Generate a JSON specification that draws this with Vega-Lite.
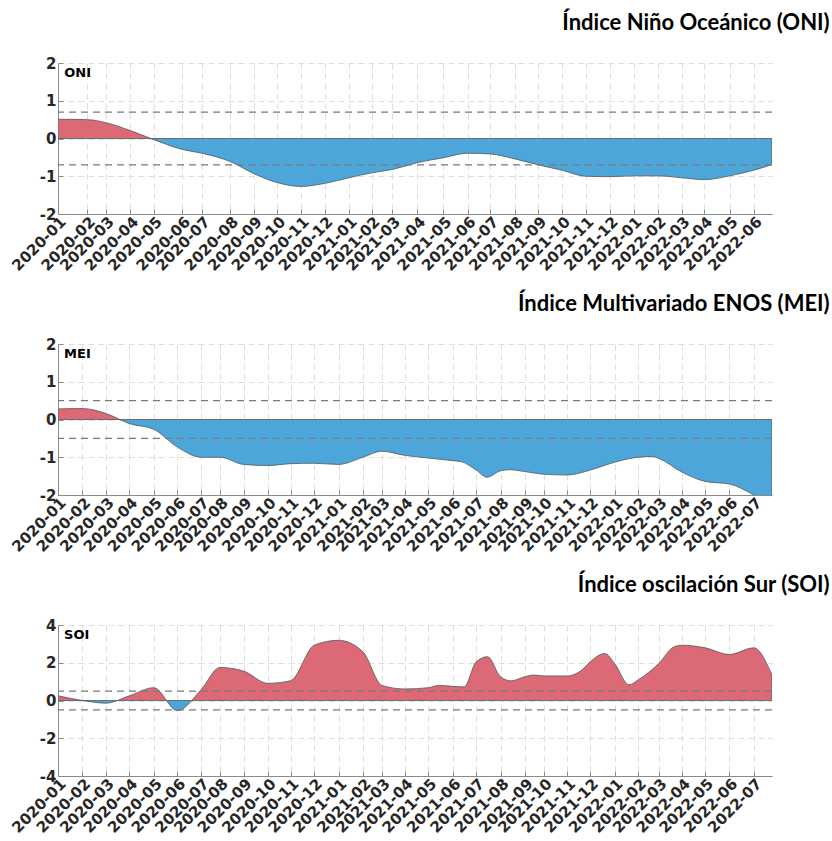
{
  "$schema": "https://vega.github.io/schema/vega-lite/v6.json",
  "background": "white",
  "padding": {"left": 9, "top": 12, "right": 5, "bottom": 5},
  "config": {
    "view": {"stroke": null},
    "font": "DejaVu Sans",
    "axis": {
      "labelFont": "DejaVu Sans", "labelFontWeight": "bold", "labelFontSize": 15, "labelColor": "#262626",
      "domainColor": "#8a8a8a", "tickColor": "#8a8a8a", "tickSize": -5,
      "gridColor": "#dedede", "gridDash": [6, 4], "title": null
    },
    "axisX": {"labelAngle": -45, "labelOverlap": false, "labelBound": false, "labelFlush": false, "format": "%Y-%m", "formatType": "utc", "labelPadding": 5},
    "axisY": {"labelPadding": 7, "labelOverlap": false, "labelExpr": "'' + datum.value"},
    "title": {"font": "Lato", "fontSize": 22, "fontWeight": "bold", "color": "#000000", "anchor": "end", "dx": 57, "offset": 21},
    "concat": {"spacing": 19}
  },
  "datasets": {
    "oni": [
      {"date": "2020-01-01", "v": 0.51}, {"date": "2020-02-07", "v": 0.5}, {"date": "2020-03-02", "v": 0.42},
      {"date": "2020-04-02", "v": 0.21}, {"date": "2020-05-02", "v": -0.03}, {"date": "2020-06-07", "v": -0.29},
      {"date": "2020-07-02", "v": -0.39}, {"date": "2020-08-07", "v": -0.61}, {"date": "2020-09-06", "v": -0.93},
      {"date": "2020-10-06", "v": -1.17}, {"date": "2020-11-05", "v": -1.27}, {"date": "2020-12-05", "v": -1.19},
      {"date": "2021-01-05", "v": -1.04}, {"date": "2021-02-03", "v": -0.91}, {"date": "2021-03-01", "v": -0.82},
      {"date": "2021-04-02", "v": -0.64}, {"date": "2021-05-05", "v": -0.51}, {"date": "2021-06-05", "v": -0.39},
      {"date": "2021-07-04", "v": -0.41}, {"date": "2021-08-04", "v": -0.54}, {"date": "2021-09-03", "v": -0.7},
      {"date": "2021-10-03", "v": -0.84}, {"date": "2021-11-02", "v": -1.0}, {"date": "2021-12-03", "v": -1.01},
      {"date": "2022-01-02", "v": -0.99}, {"date": "2022-02-02", "v": -0.99}, {"date": "2022-03-04", "v": -1.04},
      {"date": "2022-04-02", "v": -1.09}, {"date": "2022-05-04", "v": -0.99}, {"date": "2022-06-04", "v": -0.84},
      {"date": "2022-06-27", "v": -0.69}
    ],
    "mei": [
      {"date": "2020-01-01", "v": 0.28}, {"date": "2020-02-02", "v": 0.29}, {"date": "2020-03-04", "v": 0.16},
      {"date": "2020-04-04", "v": -0.11}, {"date": "2020-05-06", "v": -0.26}, {"date": "2020-06-06", "v": -0.73},
      {"date": "2020-07-07", "v": -1.0}, {"date": "2020-08-01", "v": -1.0}, {"date": "2020-09-01", "v": -1.19},
      {"date": "2020-10-03", "v": -1.22}, {"date": "2020-11-02", "v": -1.17}, {"date": "2020-12-03", "v": -1.16},
      {"date": "2021-01-04", "v": -1.19}, {"date": "2021-02-05", "v": -1.0}, {"date": "2021-03-02", "v": -0.84},
      {"date": "2021-04-01", "v": -0.95}, {"date": "2021-05-02", "v": -1.02}, {"date": "2021-06-03", "v": -1.09},
      {"date": "2021-06-15", "v": -1.12}, {"date": "2021-07-04", "v": -1.34}, {"date": "2021-07-18", "v": -1.53},
      {"date": "2021-08-05", "v": -1.36}, {"date": "2021-08-17", "v": -1.33}, {"date": "2021-09-06", "v": -1.38},
      {"date": "2021-10-01", "v": -1.45}, {"date": "2021-11-01", "v": -1.47}, {"date": "2021-12-01", "v": -1.34},
      {"date": "2022-01-02", "v": -1.13}, {"date": "2022-02-02", "v": -1.0}, {"date": "2022-02-20", "v": -0.98},
      {"date": "2022-03-01", "v": -1.03}, {"date": "2022-04-01", "v": -1.4}, {"date": "2022-05-01", "v": -1.64},
      {"date": "2022-06-02", "v": -1.71}, {"date": "2022-07-04", "v": -2.0}, {"date": "2022-07-28", "v": -2.3}
    ],
    "soi": [
      {"date": "2020-01-01", "v": 0.25}, {"date": "2020-02-02", "v": 0.0}, {"date": "2020-03-04", "v": -0.14},
      {"date": "2020-04-04", "v": 0.25}, {"date": "2020-05-06", "v": 0.68}, {"date": "2020-06-06", "v": -0.54},
      {"date": "2020-07-07", "v": 0.56}, {"date": "2020-08-01", "v": 1.75}, {"date": "2020-09-01", "v": 1.56},
      {"date": "2020-10-03", "v": 0.91}, {"date": "2020-11-02", "v": 1.05}, {"date": "2020-12-03", "v": 2.93},
      {"date": "2021-01-04", "v": 3.19}, {"date": "2021-02-05", "v": 2.58}, {"date": "2021-03-02", "v": 0.8},
      {"date": "2021-04-01", "v": 0.61}, {"date": "2021-05-02", "v": 0.68}, {"date": "2021-05-16", "v": 0.8},
      {"date": "2021-06-03", "v": 0.75}, {"date": "2021-06-18", "v": 0.72}, {"date": "2021-07-04", "v": 2.05},
      {"date": "2021-07-19", "v": 2.32}, {"date": "2021-08-05", "v": 1.26}, {"date": "2021-08-19", "v": 1.04},
      {"date": "2021-09-06", "v": 1.26}, {"date": "2021-09-18", "v": 1.35}, {"date": "2021-10-01", "v": 1.3},
      {"date": "2021-11-01", "v": 1.3}, {"date": "2021-11-21", "v": 1.65}, {"date": "2021-12-01", "v": 2.05},
      {"date": "2021-12-20", "v": 2.49}, {"date": "2022-01-02", "v": 1.96}, {"date": "2022-01-21", "v": 0.83},
      {"date": "2022-02-02", "v": 1.09}, {"date": "2022-03-01", "v": 1.96}, {"date": "2022-03-21", "v": 2.84},
      {"date": "2022-04-01", "v": 2.93}, {"date": "2022-05-01", "v": 2.79}, {"date": "2022-06-02", "v": 2.44},
      {"date": "2022-07-04", "v": 2.79}, {"date": "2022-07-28", "v": 1.35}
    ],
    "oniRefs": [{"t": 0.7}, {"t": -0.7}],
    "refs05": [{"t": 0.5}, {"t": -0.5}]
  },
  "vconcat": [
    {
      "width": 714, "height": 151,
      "title": {"text": "Índice Niño Oceánico (ONI)"},
      "layer": [
        {
          "data": {"name": "oni"},
          "mark": {"type": "area", "interpolate": "monotone", "clip": true, "stroke": "#555555", "strokeWidth": 0.8,
            "fill": {"gradient": "linear", "x1": 0, "y1": 0, "x2": 0, "y2": 1, "stops": [
              {"offset": 0, "color": "#DC6976"}, {"offset": 0.2865, "color": "#DC6976"},
              {"offset": 0.2865, "color": "#4CA6DA"}, {"offset": 1, "color": "#4CA6DA"}]}},
          "encoding": {
            "x": {"field": "date", "type": "temporal",
              "scale": {"type": "utc", "domain": [{"year": 2020, "month": 1, "date": 1, "utc": true}, {"year": 2022, "month": 6, "date": 27, "utc": true}]},
              "axis": {"values": [
                {"year": 2020, "month": 1, "date": 1, "utc": true}, {"year": 2020, "month": 2, "date": 7, "utc": true},
                {"year": 2020, "month": 3, "date": 2, "utc": true}, {"year": 2020, "month": 4, "date": 2, "utc": true},
                {"year": 2020, "month": 5, "date": 2, "utc": true}, {"year": 2020, "month": 6, "date": 7, "utc": true},
                {"year": 2020, "month": 7, "date": 2, "utc": true}, {"year": 2020, "month": 8, "date": 7, "utc": true},
                {"year": 2020, "month": 9, "date": 6, "utc": true}, {"year": 2020, "month": 10, "date": 6, "utc": true},
                {"year": 2020, "month": 11, "date": 5, "utc": true}, {"year": 2020, "month": 12, "date": 5, "utc": true},
                {"year": 2021, "month": 1, "date": 5, "utc": true}, {"year": 2021, "month": 2, "date": 3, "utc": true},
                {"year": 2021, "month": 3, "date": 1, "utc": true}, {"year": 2021, "month": 4, "date": 2, "utc": true},
                {"year": 2021, "month": 5, "date": 5, "utc": true}, {"year": 2021, "month": 6, "date": 5, "utc": true},
                {"year": 2021, "month": 7, "date": 4, "utc": true}, {"year": 2021, "month": 8, "date": 4, "utc": true},
                {"year": 2021, "month": 9, "date": 3, "utc": true}, {"year": 2021, "month": 10, "date": 3, "utc": true},
                {"year": 2021, "month": 11, "date": 2, "utc": true}, {"year": 2021, "month": 12, "date": 3, "utc": true},
                {"year": 2022, "month": 1, "date": 2, "utc": true}, {"year": 2022, "month": 2, "date": 2, "utc": true},
                {"year": 2022, "month": 3, "date": 4, "utc": true}, {"year": 2022, "month": 4, "date": 2, "utc": true},
                {"year": 2022, "month": 5, "date": 4, "utc": true}, {"year": 2022, "month": 6, "date": 4, "utc": true}]}},
            "y": {"field": "v", "type": "quantitative", "scale": {"domain": [-2, 2], "nice": false}, "axis": {"values": [-2, -1, 0, 1, 2]}},
            "y2": {"datum": 0}
          }
        },
        {"data": {"name": "oniRefs"}, "mark": {"type": "rule", "stroke": "#7a7a7a", "strokeDash": [7, 5], "strokeWidth": 1.3},
          "encoding": {"y": {"field": "t", "type": "quantitative", "axis": {"values": [-2, -1, 0, 1, 2]}}}},
        {"data": {"values": [{"label": "ONI"}]}, "mark": {"type": "text", "align": "left", "baseline": "middle", "font": "DejaVu Sans", "fontWeight": "bold", "fontSize": 13, "color": "#000000"},
          "encoding": {"text": {"field": "label"},
            "x": {"datum": {"year": 2020, "month": 1, "date": 9, "utc": true}, "type": "temporal",
              "axis": {"values": [
                {"year": 2020, "month": 1, "date": 1, "utc": true}, {"year": 2020, "month": 2, "date": 7, "utc": true},
                {"year": 2020, "month": 3, "date": 2, "utc": true}, {"year": 2020, "month": 4, "date": 2, "utc": true},
                {"year": 2020, "month": 5, "date": 2, "utc": true}, {"year": 2020, "month": 6, "date": 7, "utc": true},
                {"year": 2020, "month": 7, "date": 2, "utc": true}, {"year": 2020, "month": 8, "date": 7, "utc": true},
                {"year": 2020, "month": 9, "date": 6, "utc": true}, {"year": 2020, "month": 10, "date": 6, "utc": true},
                {"year": 2020, "month": 11, "date": 5, "utc": true}, {"year": 2020, "month": 12, "date": 5, "utc": true},
                {"year": 2021, "month": 1, "date": 5, "utc": true}, {"year": 2021, "month": 2, "date": 3, "utc": true},
                {"year": 2021, "month": 3, "date": 1, "utc": true}, {"year": 2021, "month": 4, "date": 2, "utc": true},
                {"year": 2021, "month": 5, "date": 5, "utc": true}, {"year": 2021, "month": 6, "date": 5, "utc": true},
                {"year": 2021, "month": 7, "date": 4, "utc": true}, {"year": 2021, "month": 8, "date": 4, "utc": true},
                {"year": 2021, "month": 9, "date": 3, "utc": true}, {"year": 2021, "month": 10, "date": 3, "utc": true},
                {"year": 2021, "month": 11, "date": 2, "utc": true}, {"year": 2021, "month": 12, "date": 3, "utc": true},
                {"year": 2022, "month": 1, "date": 2, "utc": true}, {"year": 2022, "month": 2, "date": 2, "utc": true},
                {"year": 2022, "month": 3, "date": 4, "utc": true}, {"year": 2022, "month": 4, "date": 2, "utc": true},
                {"year": 2022, "month": 5, "date": 4, "utc": true}, {"year": 2022, "month": 6, "date": 4, "utc": true}]}},
            "y": {"datum": 1.73, "type": "quantitative", "axis": {"values": [-2, -1, 0, 1, 2]}}}}
      ]
    },
    {
      "width": 714, "height": 151,
      "title": {"text": "Índice Multivariado ENOS (MEI)"},
      "layer": [
        {
          "data": {"name": "mei"},
          "mark": {"type": "area", "interpolate": "monotone", "clip": true, "stroke": "#555555", "strokeWidth": 0.8,
            "fill": {"gradient": "linear", "x1": 0, "y1": 0, "x2": 0, "y2": 1, "stops": [
              {"offset": 0, "color": "#DC6976"}, {"offset": 0.1142, "color": "#DC6976"},
              {"offset": 0.1142, "color": "#4CA6DA"}, {"offset": 1, "color": "#4CA6DA"}]}},
          "encoding": {
            "x": {"field": "date", "type": "temporal",
              "scale": {"type": "utc", "domain": [{"year": 2020, "month": 1, "date": 1, "utc": true}, {"year": 2022, "month": 7, "date": 28, "utc": true}]},
              "axis": {"values": [
                {"year": 2020, "month": 1, "date": 1, "utc": true}, {"year": 2020, "month": 2, "date": 2, "utc": true},
                {"year": 2020, "month": 3, "date": 4, "utc": true}, {"year": 2020, "month": 4, "date": 4, "utc": true},
                {"year": 2020, "month": 5, "date": 6, "utc": true}, {"year": 2020, "month": 6, "date": 6, "utc": true},
                {"year": 2020, "month": 7, "date": 7, "utc": true}, {"year": 2020, "month": 8, "date": 1, "utc": true},
                {"year": 2020, "month": 9, "date": 1, "utc": true}, {"year": 2020, "month": 10, "date": 3, "utc": true},
                {"year": 2020, "month": 11, "date": 2, "utc": true}, {"year": 2020, "month": 12, "date": 3, "utc": true},
                {"year": 2021, "month": 1, "date": 4, "utc": true}, {"year": 2021, "month": 2, "date": 5, "utc": true},
                {"year": 2021, "month": 3, "date": 2, "utc": true}, {"year": 2021, "month": 4, "date": 1, "utc": true},
                {"year": 2021, "month": 5, "date": 2, "utc": true}, {"year": 2021, "month": 6, "date": 3, "utc": true},
                {"year": 2021, "month": 7, "date": 4, "utc": true}, {"year": 2021, "month": 8, "date": 5, "utc": true},
                {"year": 2021, "month": 9, "date": 6, "utc": true}, {"year": 2021, "month": 10, "date": 1, "utc": true},
                {"year": 2021, "month": 11, "date": 1, "utc": true}, {"year": 2021, "month": 12, "date": 1, "utc": true},
                {"year": 2022, "month": 1, "date": 2, "utc": true}, {"year": 2022, "month": 2, "date": 2, "utc": true},
                {"year": 2022, "month": 3, "date": 1, "utc": true}, {"year": 2022, "month": 4, "date": 1, "utc": true},
                {"year": 2022, "month": 5, "date": 1, "utc": true}, {"year": 2022, "month": 6, "date": 2, "utc": true},
                {"year": 2022, "month": 7, "date": 4, "utc": true}]}},
            "y": {"field": "v", "type": "quantitative", "scale": {"domain": [-2, 2], "nice": false}, "axis": {"values": [-2, -1, 0, 1, 2]}},
            "y2": {"datum": 0}
          }
        },
        {"data": {"name": "refs05"}, "mark": {"type": "rule", "stroke": "#7a7a7a", "strokeDash": [7, 5], "strokeWidth": 1.3},
          "encoding": {"y": {"field": "t", "type": "quantitative", "axis": {"values": [-2, -1, 0, 1, 2]}}}},
        {"data": {"values": [{"label": "MEI"}]}, "mark": {"type": "text", "align": "left", "baseline": "middle", "font": "DejaVu Sans", "fontWeight": "bold", "fontSize": 13, "color": "#000000"},
          "encoding": {"text": {"field": "label"},
            "x": {"datum": {"year": 2020, "month": 1, "date": 9, "utc": true}, "type": "temporal",
              "axis": {"values": [
                {"year": 2020, "month": 1, "date": 1, "utc": true}, {"year": 2020, "month": 2, "date": 2, "utc": true},
                {"year": 2020, "month": 3, "date": 4, "utc": true}, {"year": 2020, "month": 4, "date": 4, "utc": true},
                {"year": 2020, "month": 5, "date": 6, "utc": true}, {"year": 2020, "month": 6, "date": 6, "utc": true},
                {"year": 2020, "month": 7, "date": 7, "utc": true}, {"year": 2020, "month": 8, "date": 1, "utc": true},
                {"year": 2020, "month": 9, "date": 1, "utc": true}, {"year": 2020, "month": 10, "date": 3, "utc": true},
                {"year": 2020, "month": 11, "date": 2, "utc": true}, {"year": 2020, "month": 12, "date": 3, "utc": true},
                {"year": 2021, "month": 1, "date": 4, "utc": true}, {"year": 2021, "month": 2, "date": 5, "utc": true},
                {"year": 2021, "month": 3, "date": 2, "utc": true}, {"year": 2021, "month": 4, "date": 1, "utc": true},
                {"year": 2021, "month": 5, "date": 2, "utc": true}, {"year": 2021, "month": 6, "date": 3, "utc": true},
                {"year": 2021, "month": 7, "date": 4, "utc": true}, {"year": 2021, "month": 8, "date": 5, "utc": true},
                {"year": 2021, "month": 9, "date": 6, "utc": true}, {"year": 2021, "month": 10, "date": 1, "utc": true},
                {"year": 2021, "month": 11, "date": 1, "utc": true}, {"year": 2021, "month": 12, "date": 1, "utc": true},
                {"year": 2022, "month": 1, "date": 2, "utc": true}, {"year": 2022, "month": 2, "date": 2, "utc": true},
                {"year": 2022, "month": 3, "date": 1, "utc": true}, {"year": 2022, "month": 4, "date": 1, "utc": true},
                {"year": 2022, "month": 5, "date": 1, "utc": true}, {"year": 2022, "month": 6, "date": 2, "utc": true},
                {"year": 2022, "month": 7, "date": 4, "utc": true}]}},
            "y": {"datum": 1.73, "type": "quantitative", "axis": {"values": [-2, -1, 0, 1, 2]}}}}
      ]
    },
    {
      "width": 714, "height": 151,
      "title": {"text": "Índice oscilación Sur (SOI)"},
      "layer": [
        {
          "data": {"name": "soi"},
          "mark": {"type": "area", "interpolate": "monotone", "clip": true, "stroke": "#555555", "strokeWidth": 0.8,
            "fill": {"gradient": "linear", "x1": 0, "y1": 0, "x2": 0, "y2": 1, "stops": [
              {"offset": 0, "color": "#DC6976"}, {"offset": 0.8552, "color": "#DC6976"},
              {"offset": 0.8552, "color": "#4CA6DA"}, {"offset": 1, "color": "#4CA6DA"}]}},
          "encoding": {
            "x": {"field": "date", "type": "temporal",
              "scale": {"type": "utc", "domain": [{"year": 2020, "month": 1, "date": 1, "utc": true}, {"year": 2022, "month": 7, "date": 28, "utc": true}]},
              "axis": {"values": [
                {"year": 2020, "month": 1, "date": 1, "utc": true}, {"year": 2020, "month": 2, "date": 2, "utc": true},
                {"year": 2020, "month": 3, "date": 4, "utc": true}, {"year": 2020, "month": 4, "date": 4, "utc": true},
                {"year": 2020, "month": 5, "date": 6, "utc": true}, {"year": 2020, "month": 6, "date": 6, "utc": true},
                {"year": 2020, "month": 7, "date": 7, "utc": true}, {"year": 2020, "month": 8, "date": 1, "utc": true},
                {"year": 2020, "month": 9, "date": 1, "utc": true}, {"year": 2020, "month": 10, "date": 3, "utc": true},
                {"year": 2020, "month": 11, "date": 2, "utc": true}, {"year": 2020, "month": 12, "date": 3, "utc": true},
                {"year": 2021, "month": 1, "date": 4, "utc": true}, {"year": 2021, "month": 2, "date": 5, "utc": true},
                {"year": 2021, "month": 3, "date": 2, "utc": true}, {"year": 2021, "month": 4, "date": 1, "utc": true},
                {"year": 2021, "month": 5, "date": 2, "utc": true}, {"year": 2021, "month": 6, "date": 3, "utc": true},
                {"year": 2021, "month": 7, "date": 4, "utc": true}, {"year": 2021, "month": 8, "date": 5, "utc": true},
                {"year": 2021, "month": 9, "date": 6, "utc": true}, {"year": 2021, "month": 10, "date": 1, "utc": true},
                {"year": 2021, "month": 11, "date": 1, "utc": true}, {"year": 2021, "month": 12, "date": 1, "utc": true},
                {"year": 2022, "month": 1, "date": 2, "utc": true}, {"year": 2022, "month": 2, "date": 2, "utc": true},
                {"year": 2022, "month": 3, "date": 1, "utc": true}, {"year": 2022, "month": 4, "date": 1, "utc": true},
                {"year": 2022, "month": 5, "date": 1, "utc": true}, {"year": 2022, "month": 6, "date": 2, "utc": true},
                {"year": 2022, "month": 7, "date": 4, "utc": true}]}},
            "y": {"field": "v", "type": "quantitative", "scale": {"domain": [-4, 4], "nice": false}, "axis": {"values": [-4, -2, 0, 2, 4]}},
            "y2": {"datum": 0}
          }
        },
        {"data": {"name": "refs05"}, "mark": {"type": "rule", "stroke": "#7a7a7a", "strokeDash": [7, 5], "strokeWidth": 1.3},
          "encoding": {"y": {"field": "t", "type": "quantitative", "axis": {"values": [-4, -2, 0, 2, 4]}}}},
        {"data": {"values": [{"label": "SOI"}]}, "mark": {"type": "text", "align": "left", "baseline": "middle", "font": "DejaVu Sans", "fontWeight": "bold", "fontSize": 13, "color": "#000000"},
          "encoding": {"text": {"field": "label"},
            "x": {"datum": {"year": 2020, "month": 1, "date": 9, "utc": true}, "type": "temporal",
              "axis": {"values": [
                {"year": 2020, "month": 1, "date": 1, "utc": true}, {"year": 2020, "month": 2, "date": 2, "utc": true},
                {"year": 2020, "month": 3, "date": 4, "utc": true}, {"year": 2020, "month": 4, "date": 4, "utc": true},
                {"year": 2020, "month": 5, "date": 6, "utc": true}, {"year": 2020, "month": 6, "date": 6, "utc": true},
                {"year": 2020, "month": 7, "date": 7, "utc": true}, {"year": 2020, "month": 8, "date": 1, "utc": true},
                {"year": 2020, "month": 9, "date": 1, "utc": true}, {"year": 2020, "month": 10, "date": 3, "utc": true},
                {"year": 2020, "month": 11, "date": 2, "utc": true}, {"year": 2020, "month": 12, "date": 3, "utc": true},
                {"year": 2021, "month": 1, "date": 4, "utc": true}, {"year": 2021, "month": 2, "date": 5, "utc": true},
                {"year": 2021, "month": 3, "date": 2, "utc": true}, {"year": 2021, "month": 4, "date": 1, "utc": true},
                {"year": 2021, "month": 5, "date": 2, "utc": true}, {"year": 2021, "month": 6, "date": 3, "utc": true},
                {"year": 2021, "month": 7, "date": 4, "utc": true}, {"year": 2021, "month": 8, "date": 5, "utc": true},
                {"year": 2021, "month": 9, "date": 6, "utc": true}, {"year": 2021, "month": 10, "date": 1, "utc": true},
                {"year": 2021, "month": 11, "date": 1, "utc": true}, {"year": 2021, "month": 12, "date": 1, "utc": true},
                {"year": 2022, "month": 1, "date": 2, "utc": true}, {"year": 2022, "month": 2, "date": 2, "utc": true},
                {"year": 2022, "month": 3, "date": 1, "utc": true}, {"year": 2022, "month": 4, "date": 1, "utc": true},
                {"year": 2022, "month": 5, "date": 1, "utc": true}, {"year": 2022, "month": 6, "date": 2, "utc": true},
                {"year": 2022, "month": 7, "date": 4, "utc": true}]}},
            "y": {"datum": 3.47, "type": "quantitative", "axis": {"values": [-4, -2, 0, 2, 4]}}}}
      ]
    }
  ]
}
